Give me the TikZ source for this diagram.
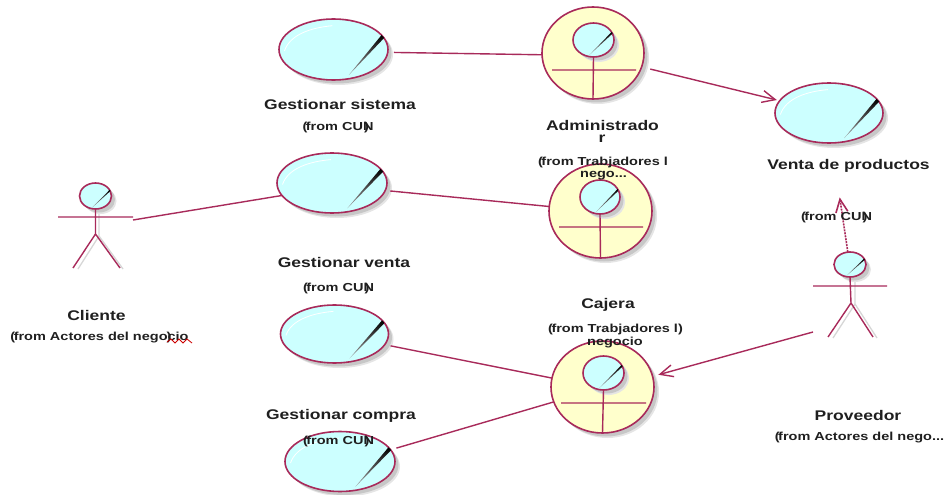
\documentclass[tikz,border=0pt]{standalone}
\usepackage{fontspec}
\setmainfont{Liberation Sans}[FakeStretch=1.25]
\usetikzlibrary{shapes.geometric,shadows,arrows.meta,calc}
\definecolor{rline}{RGB}{168,42,90}
\definecolor{ucyan}{RGB}{204,255,255}
\definecolor{uyellow}{RGB}{255,255,204}
\tikzset{
  softshadow/.style={general shadow={shadow xshift=5pt,shadow yshift=-5pt,fill=black!10},
                     general shadow={shadow xshift=3.5pt,shadow yshift=-3.5pt,fill=black!22}},
  ushape/.style={ellipse,draw=rline,line width=1.6pt,inner sep=0pt,outer sep=0pt,softshadow},
  assoc/.style={draw=rline,line width=1.4pt},
  arr/.style={assoc,-{Straight Barb[length=13pt,width=12pt]}},
  dep/.style={assoc,line width=1.6pt,dash pattern=on 2pt off 1pt,-{Straight Barb[length=13pt,width=12pt]}},
  thin rod/.style={draw=rline,line width=1.4pt},
  rodshadow/.style={draw=black!16,line width=1.3pt},
  title/.style={inner sep=0pt,yshift=-1pt,font=\fontsize{14}{15}\selectfont\bfseries,text=black!88},
  small/.style={inner sep=0pt,yshift=-1pt,font=\fontsize{11.6}{13}\selectfont\bfseries,text=black!88}
}
% cx cy rx ry : black slash of an oval
\newcommand{\sheen}[6]{%
  \begin{scope}[shift={(#1,#2)},x=#3pt,y=-#4pt]
    \shade[top color=black,bottom color=black!35] (.93,-.38) -- (.88,-.47) -- (#5,#6) -- cycle;
  \end{scope}}
\newcommand{\gloss}[4]{%
  \begin{scope}[shift={(#1,#2)},x=#3pt,y=-#4pt]
    \draw[white,line width=.8pt] (-.9,.05) .. controls (-.8,-.5) and (-.4,-.72) .. (-.02,-.78);
  \end{scope}}
\newcommand{\usecase}[5]{%
  \node[ushape,fill=ucyan,minimum width=#4*2pt,minimum height=#5*2pt] (#1) at (#2,#3) {};
  \gloss{#2}{#3}{#4}{#5}\sheen{#2}{#3}{#4}{#5}{.28}{.84}}
\newcommand{\head}[5]{%
  \node[ushape,fill=ucyan,minimum width=#4*2pt,minimum height=#5*2pt] (#1) at (#2,#3) {};
  \sheen{#2}{#3}{#4}{#5}{-.2}{.88}}
\newcommand{\fromcun}{(\kern-1.5pt from CU\rlap{\kern1pt)}N}
\begin{document}
\begin{tikzpicture}[x=1pt,y=-1pt]
\useasboundingbox (0,0) rectangle (946,495);
% use cases
\usecase{gs}{333.5}{49.5}{54.5}{30.5}
\usecase{gv}{332}{183}{55}{30}
\usecase{gt}{334.5}{334}{54}{29}
\usecase{gc}{340}{461.5}{55}{30}
\usecase{vp}{829}{113}{54}{30}
% business workers
\node[ushape,fill=uyellow,minimum width=102pt,minimum height=92pt] (adm) at (593,53) {};
\head{admh}{593.5}{40}{20.5}{17}
\draw[thin rod] (552,70) -- (636,70) (admh.south) -- (adm.south);
\node[ushape,fill=uyellow,minimum width=103pt,minimum height=94pt] (caj) at (600.5,211) {};
\head{cajh}{600}{197}{20}{17}
\draw[thin rod] (559,227) -- (643,227) (cajh.south) -- (caj.south);
\node[ushape,fill=uyellow,minimum width=103pt,minimum height=92pt] (wk) at (602.5,387) {};
\head{wkh}{603.5}{373}{20.5}{17}
\draw[thin rod] (561,403) -- (646,403) (wkh.south) -- (wk.south);
% actors
\draw[rodshadow] (99,209) -- (99,236) (99,236) -- (78,269) (99,236) -- (123,269);
\head{clh}{95.5}{196}{16}{13}
\draw[thin rod] (58,217) -- (133,217) (clh.south) -- (95.5,234) -- (73,268) (95.5,234) -- (120,268);
\draw[rodshadow] (855,277) -- (855,304) (855,304) -- (833,338) (855,304) -- (877,338);
\head{prh}{850}{264.5}{16}{12.5}
\draw[thin rod] (813,286) -- (887,286) (prh.south) -- (851,303) -- (828,337) (851,303) -- (873,337);
\coordinate (clhand) at (133,220);
\coordinate (prhand) at (813,332);
% connectors
\draw[assoc,shorten <=6pt] (gs.-3) -- (adm.182);
\draw[arr,shorten <=9pt,shorten >=3pt] (adm.-16) -- (vp.166);
\draw[assoc] (clhand) -- (gv.194);
\draw[assoc,shorten <=5pt] (gv.-8) -- (caj.175);
\draw[assoc,shorten <=6pt] (gt.-12) -- (wk.170);
\draw[assoc,shorten <=6pt] (gc.13) -- (wk.197);
\draw[arr,shorten >=6pt] (prhand) -- (wk.12);
\draw[dep,shorten >=55pt] (prh.100) -- (vp.-85);
% labels
\node[title] (t1) at (340,103) {Gestionar sistema};
\node[small] (s1) at (338,127) {\fromcun};
\node[title] (t2) at (602.5,124) {Administrado};
\node[title] (t2b) at (602,138) {r};
\node[small] (s2) at (603,162) {(\kern-1.5pt from Trabjadores l};
\node[small] (s2b) at (603.5,175) {nego...};
\node[title] (t3) at (848.5,165) {Venta de productos};
\node[small] (s3) at (836.5,217) {\fromcun};
\node[title] (t4) at (344,261) {Gestionar venta};
\node[small] (s4) at (338.5,287) {\fromcun};
\node[title] (t5) at (96.5,314) {Cliente};
\node[small] (s5) at (99.5,337) {(\kern-1.5pt from Actores del nego\rlap{\kern-1pt)}cio};
\node[title] (t6) at (608,304) {Cajera};
\node[small] (s6) at (615.5,328) {(\kern-1.5pt from Trabjadores l)};
\node[small] (s6b) at (615,342) {negocio};
\node[title] (t7) at (341,415) {Gestionar compra};
\node[small] (s7) at (338.5,440) {\fromcun};
\node[title] (t8) at (858,414) {Proveedor};
\node[small] (s8) at (859.5,437) {(\kern-1.5pt from Actores del nego...};
% spell-check squiggle
\draw[red!80!black,line width=.8pt] (167,342) -- (171,339) -- (175,343) -- (179,339) -- (183,343) -- (187,339) -- (192,343);
\end{tikzpicture}
\end{document}
